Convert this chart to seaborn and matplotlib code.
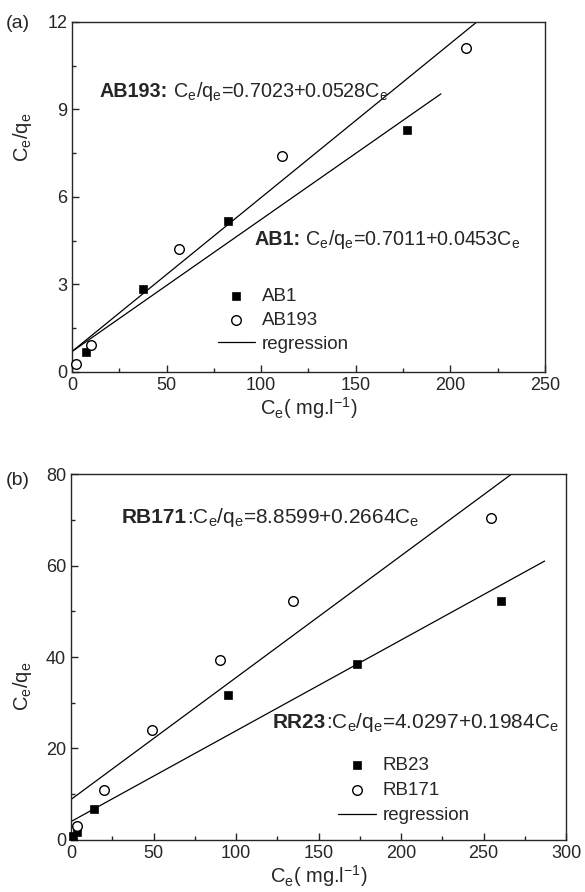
import numpy as np
import pandas as pd
import seaborn as sns
import matplotlib
matplotlib.use('Agg')
import matplotlib.pyplot as plt

# panel (a) data
ab1_x = [7.2, 37.4, 82.3, 176.9]
ab1_y = [0.70, 2.83, 5.19, 8.30]
ab193_x = [2.1, 9.9, 56.4, 111.2, 208.1]
ab193_y = [0.27, 0.93, 4.20, 7.42, 11.12]
# regression: intercept, slope, x range
ab1_fit = (0.7011, 0.0453, 0, 195)
ab193_fit = (0.7023, 0.0528, 0, 227)

# panel (b) data
rb23_x = [1.5, 3.8, 13.9, 95.0, 173.1, 260.6]
rb23_y = [0.9, 1.8, 6.7, 31.7, 38.4, 52.2]
rb171_x = [3.4, 20.2, 49.3, 90.3, 134.7, 254.5]
rb171_y = [3.1, 10.9, 24.0, 39.3, 52.2, 70.4]
rr23_fit = (4.0297, 0.1984, 0, 287)
rb171_fit = (8.8599, 0.2664, 0, 280)

sns.set_style('ticks')
plt.rcParams['font.family'] = ['Liberation Sans', 'DejaVu Sans']
plt.rcParams['mathtext.fontset'] = 'custom'
plt.rcParams['mathtext.rm'] = 'Liberation Sans'
plt.rcParams['mathtext.it'] = 'Liberation Sans'
plt.rcParams['mathtext.bf'] = 'Liberation Sans:bold'
plt.rcParams['font.size'] = 12

fig = plt.figure(figsize=(5.85, 8.92), dpi=100)
ax1 = fig.add_axes([0.1231, 0.5830, 0.8085, 0.3924])
ax2 = fig.add_axes([0.1214, 0.0583, 0.8462, 0.4103])


def fit_line(ax, fit, label):
    a, b, x0, x1 = fit
    xs = np.array([x0, x1])
    d = pd.DataFrame({'x': xs, 'y': a + b * xs})
    sns.lineplot(data=d, x='x', y='y', ax=ax, color='black', lw=0.9, label=label)


def equation(ax, x, y, name, rest, fs):
    # bold dye name followed by plain equation, on one baseline
    t = ax.text(x, y, name, transform=ax.transAxes, va='baseline',
                fontsize=fs, fontweight='bold')
    ax.annotate(rest, xy=(1, y), xycoords=(t, 'axes fraction'), va='baseline',
                ha='left', fontsize=fs)


def panel(ax, sq_x, sq_y, sq_lab, ci_x, ci_y, ci_lab, fits):
    sns.scatterplot(x=sq_x, y=sq_y, ax=ax, marker='s', s=36, color='black',
                    edgecolor='black', label=sq_lab, zorder=3, clip_on=False)
    sns.scatterplot(x=ci_x, y=ci_y, ax=ax, marker='o', s=48, facecolor='white',
                    edgecolor='black', linewidth=1.0, label=ci_lab, zorder=3, clip_on=False)
    fit_line(ax, fits[0], 'regression')
    fit_line(ax, fits[1], '_nolegend_')
    for sp in ax.spines.values():
        sp.set_linewidth(1.0)
    ax.tick_params(which='major', direction='in', length=5, width=1, labelsize=13)
    ax.tick_params(which='minor', direction='in', length=3, width=1)


panel(ax1, ab1_x, ab1_y, 'AB1', ab193_x, ab193_y, 'AB193', [ab1_fit, ab193_fit])
ax1.set_xlim(0, 250)
ax1.set_ylim(0, 12)
ax1.set_xticks([0, 50, 100, 150, 200, 250])
ax1.set_xticks(np.arange(25, 250, 50), minor=True)
ax1.set_yticks([0, 3, 6, 9, 12])
ax1.set_yticks(np.arange(1.5, 12, 3), minor=True)
ax1.set_xlabel('C$_e$( mg.l$^{-1}$)', fontsize=14.5, labelpad=1)
ax1.set_ylabel('C$_e$/q$_e$', fontsize=14.5)
ax1.yaxis.set_label_coords(-0.08, 0.67)
equation(ax1, 0.059, 0.785, 'AB193:', ' C$_e$/q$_e$=0.7023+0.0528C$_e$', 14.2)
equation(ax1, 0.385, 0.362, 'AB1:', ' C$_e$/q$_e$=0.7011+0.0453C$_e$', 14.2)
ax1.legend(loc='upper left', bbox_to_anchor=(0.308, 0.24), frameon=False,
           fontsize=13.5, handlelength=2.0, handletextpad=0.35, labelspacing=0.36,
           borderaxespad=0, borderpad=0)

panel(ax2, rb23_x, rb23_y, 'RB23', rb171_x, rb171_y, 'RB171', [rr23_fit, rb171_fit])
ax2.set_xlim(0, 300)
ax2.set_ylim(0, 80)
ax2.set_xticks([0, 50, 100, 150, 200, 250, 300])
ax2.set_xticks(np.arange(25, 300, 50), minor=True)
ax2.set_yticks([0, 20, 40, 60, 80])
ax2.set_yticks(np.arange(10, 80, 20), minor=True)
ax2.set_xlabel('C$_e$( mg.l$^{-1}$)', fontsize=14.5, labelpad=1)
ax2.set_ylabel('C$_e$/q$_e$', fontsize=14.5)
ax2.yaxis.set_label_coords(-0.075, 0.42)
equation(ax2, 0.103, 0.865, 'RB171', ':C$_e$/q$_e$=8.8599+0.2664C$_e$', 15)
equation(ax2, 0.408, 0.307, 'RR23', ':C$_e$/q$_e$=4.0297+0.1984C$_e$', 15)
ax2.legend(loc='upper left', bbox_to_anchor=(0.54, 0.226), frameon=False,
           fontsize=13.5, handlelength=2.0, handletextpad=0.35, labelspacing=0.42,
           borderaxespad=0, borderpad=0)

fig.text(0.009, 0.974, '(a)', fontsize=14, va='center')
fig.text(0.009, 0.461, '(b)', fontsize=14, va='center')

fig.savefig('out.png', dpi=100)
